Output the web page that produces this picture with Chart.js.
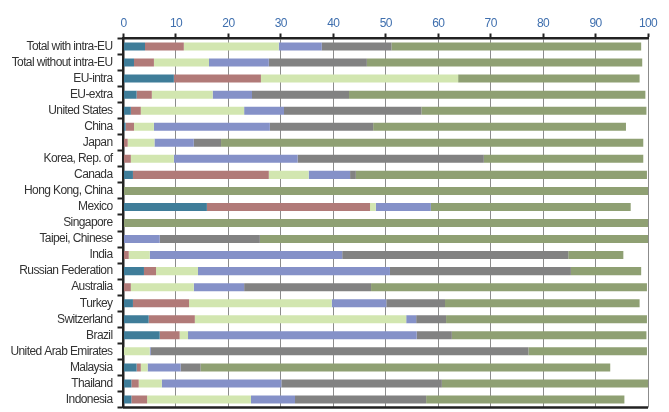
<!DOCTYPE html>
<html>
<head>
<meta charset="utf-8">
<script src="https://cdn.jsdelivr.net/npm/chart.js@4"></script>
<style>
html,body{margin:0;padding:0;background:#fff;}
#wrap{position:relative;width:669px;height:412px;}
</style>
</head>
<body>
<div id="wrap"><canvas id="c"></canvas></div>
<script>
const categories = ["Total with intra-EU","Total without intra-EU","EU-intra","EU-extra","United States","China","Japan","Korea, Rep. of","Canada","Hong Kong, China","Mexico","Singapore","Taipei, Chinese","India","Russian Federation","Australia","Turkey","Switzerland","Brazil","United Arab Emirates","Malaysia","Thailand","Indonesia"];
const seriesNames = ["Series 1","Series 2","Series 3","Series 4","Series 5","Series 6"];
const s1 = [4.1, 2.0, 9.6, 2.5, 1.4, 0.4, 0, 0, 1.8, 0, 15.9, 0, 0, 0, 3.9, 0, 1.8, 4.8, 6.9, 0, 2.5, 1.5, 1.5];
const s2 = [7.4, 3.8, 16.6, 2.9, 1.9, 1.6, 0.8, 1.4, 25.9, 0, 31.1, 0, 0, 1.0, 2.3, 1.4, 10.7, 8.8, 3.8, 0, 0.8, 1.4, 3.0];
const s3 = [18.1, 10.5, 37.6, 11.6, 19.7, 3.8, 5.1, 8.2, 7.6, 0, 1.1, 0, 0, 4.0, 8.0, 12.0, 27.2, 40.3, 1.6, 5.0, 1.3, 4.4, 19.8];
const s4 = [8.2, 11.4, 0, 7.5, 7.6, 22.1, 7.5, 23.6, 7.9, 0, 10.5, 0, 6.9, 36.7, 36.6, 9.6, 10.4, 1.9, 43.6, 0.2, 6.3, 22.8, 8.4];
const s5 = [13.3, 18.7, 0, 18.5, 26.2, 19.7, 5.2, 35.5, 1.1, 0, 0, 0, 19.1, 43.1, 34.5, 24.2, 11.2, 5.7, 6.7, 72.0, 3.8, 30.6, 25.0];
const s6 = [47.6, 52.5, 34.6, 56.5, 42.9, 48.2, 80.5, 30.4, 55.5, 100, 38.1, 100, 74.0, 10.5, 13.4, 52.6, 37.1, 38.3, 37.1, 22.6, 78.1, 39.3, 37.8];
const xTicks = [0,10,20,30,40,50,60,70,80,90,100];

const colors = ["#3f7d99","#b17a78","#d2e6b0","#8591c8","#828282","#8fa073"];
const allSeries = [s1,s2,s3,s4,s5,s6];

const narrowText = {
  id:'narrowText',
  beforeDraw(chart){ chart.ctx.letterSpacing = '-0.6px'; }
};
const bottomLine = {
  id:'bottomLine',
  afterDraw(chart){
    const a = chart.chartArea, ctx = chart.ctx;
    ctx.save();
    ctx.strokeStyle = '#222';
    ctx.lineWidth = 2.5;
    ctx.beginPath();
    ctx.moveTo(a.left-1, a.bottom);
    ctx.lineTo(a.right, a.bottom);
    ctx.stroke();
    ctx.restore();
  }
};

new Chart(document.getElementById('c'), {
  type: 'bar',
  data: {
    labels: categories,
    datasets: allSeries.map((d,i)=>({
      label: seriesNames[i],
      data: d,
      backgroundColor: colors[i],
      borderWidth: 0,
      barPercentage: 0.5,
      categoryPercentage: 1.0
    }))
  },
  options: {
    indexAxis: 'y',
    responsive: true,
    maintainAspectRatio: false,
    animation: false,
    layout: { padding: { left: 0, right: 21, top: 0, bottom: 4.5 } },
    plugins: { legend: { display: false }, tooltip: { enabled: false } },
    scales: {
      x: {
        position: 'top',
        stacked: true,
        min: 0, max: 100,
        afterBuildTicks(scale){ scale.ticks = xTicks.map(v=>({value:v})); },
        afterFit(scale){ scale.height = 38.5; scale.paddingLeft = 0; scale.paddingRight = 0; },
        ticks: {
          color: '#3f6fae',
          font: { family: 'Liberation Sans, Arial', size: 12 },
          padding: 3
        },
        grid: {
          color: '#8c8c8c',
          lineWidth: 1,
          tickLength: 5,
          tickColor: '#222',
          tickWidth: 2
        },
        border: { display: true, color: '#222', width: 2.5 }
      },
      y: {
        stacked: true,
        afterFit(scale){ scale.width = 123.5; scale.paddingTop = 0; scale.paddingBottom = 0; },
        ticks: {
          color: '#333',
          font: { family: 'Liberation Sans, Arial', size: 12 },
          padding: 5,
          autoSkip: false
        },
        grid: {
          display: true,
          drawOnChartArea: false,
          offset: true,
          tickLength: 6,
          tickColor: '#222',
          tickWidth: 2
        },
        border: { display: true, color: '#222', width: 2.5 }
      }
    }
  },
  plugins: [narrowText, bottomLine]
});
</script>
</body>
</html>
